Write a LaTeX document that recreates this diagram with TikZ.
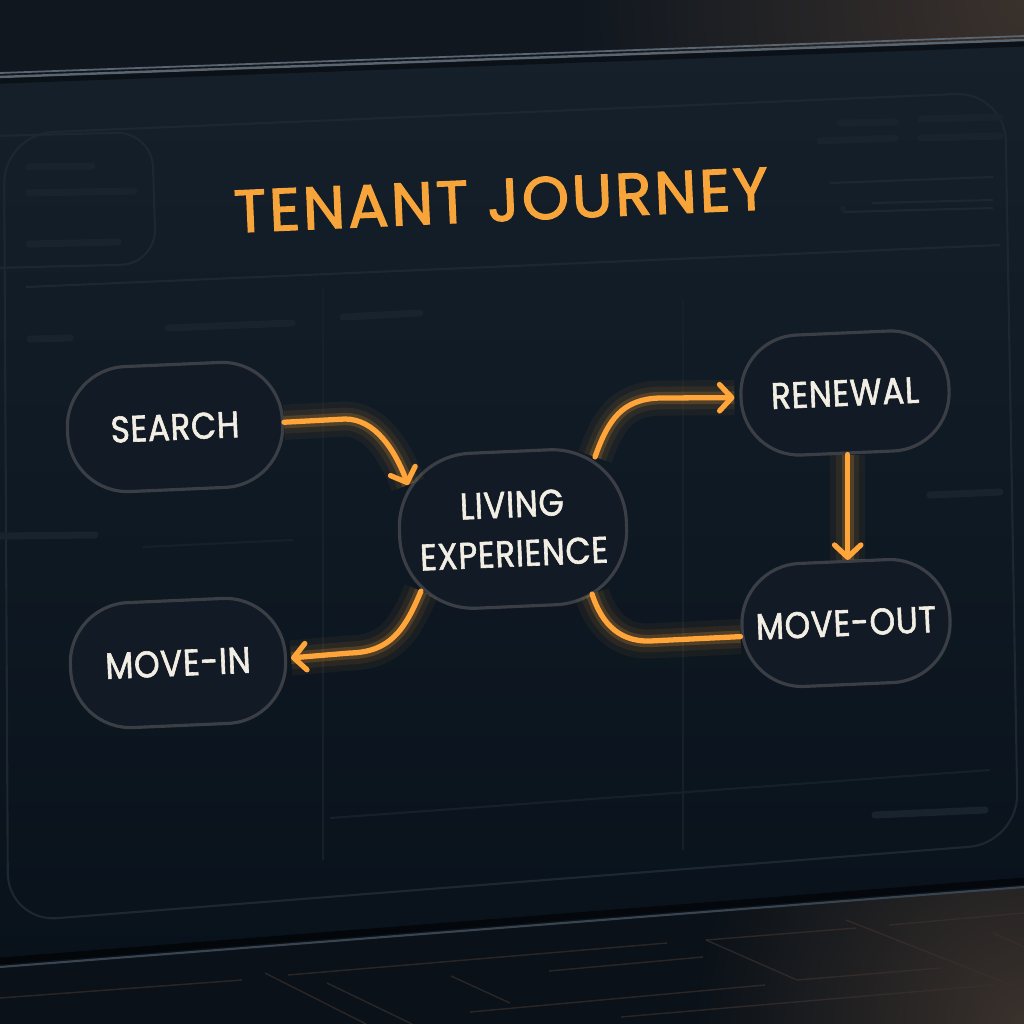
\documentclass[tikz,border=0pt]{standalone}
\usepackage{fontspec}
\setmainfont{Poppins}
\newfontfamily\stagefont{Poppins}[LetterSpace=2, FakeStretch=0.88, FakeBold=1.6]
\newfontfamily\headfont{Poppins}[LetterSpace=5, FakeBold=2.2]
\usetikzlibrary{arrows.meta,calc}
\definecolor{flow}{HTML}{FFA53A}
\definecolor{headc}{HTML}{F7A53B}
\definecolor{stagetext}{HTML}{F2EEE4}
\definecolor{stageedge}{HTML}{3B3F45}
\definecolor{stagefill}{HTML}{111A25}
\definecolor{scrtop}{HTML}{15202B}
\definecolor{scrbot}{HTML}{09121B}
\definecolor{floorc}{HTML}{0A1118}
\definecolor{faint}{HTML}{1C2732}
\definecolor{fainter}{HTML}{16202A}
\definecolor{barc}{HTML}{18232E}
\definecolor{rim}{HTML}{5A6570}
\definecolor{warm}{HTML}{3A312C}
\definecolor{bandl}{HTML}{10171F}
\definecolor{floorline}{HTML}{3A302C}
\begin{document}
\begin{tikzpicture}[x=0.01cm,y=-0.01cm,
  stage/.style={draw=stageedge, line width=0.9pt, fill=stagefill, text=stagetext,
    font=\stagefont\fontsize{10.5}{12}\selectfont, align=center, inner sep=0pt, rotate=2.5},
  small/.style={stage, minimum width=2.15cm, minimum height=1.25cm, rounded corners=0.6cm},
  flowbase/.style={draw=flow, line width=1.5pt, line cap=round,
    preaction={draw=flow, line width=10pt, opacity=0.05, arrows=-},
    preaction={draw=flow, line width=6.5pt, opacity=0.08, arrows=-},
    preaction={draw=flow, line width=3.5pt, opacity=0.18, arrows=-}},
  flowarrow/.style={flowbase, -{Straight Barb[length=3.5pt,width=7.5pt,line cap=round,line join=round]}},
  faintline/.style={draw=faint, line width=0.6pt},
  vline/.style={draw=fainter, line width=0.6pt},
  bar/.style={draw=barc, line width=2pt, line cap=round},
  floorstroke/.style={draw=floorline, line width=0.4pt, opacity=0.7}
]
\useasboundingbox (0,0) rectangle (1024,1024);
\fill[floorc] (0,0) rectangle (1024,1024);
% top band above the screen
\begin{scope}
  \clip (0,0) -- (1024,0) -- (1024,40) -- (0,77) -- cycle;
  \fill[bandl] (0,0) rectangle (1024,80);
  \shade[inner color=warm, outer color=bandl] (1024,0) circle (450);
\end{scope}
% floor
\begin{scope}
  \clip (0,967) -- (1024,887) -- (1024,1024) -- (0,1024) -- cycle;
  \shade[inner color=warm, outer color=floorc] (1024,1024) circle (330);
  \draw[floorstroke] (846,920) -- (1024,990);
  \draw[floorstroke] (706,940) -- (797,980);
  \draw[floorstroke] (706,940) -- (856,928);
  \draw[floorstroke] (797,980) -- (941,968);
  \draw[floorstroke] (889,925) -- (1024,913);
  \draw[floorstroke] (288,975) -- (667,943);
  \draw[floorstroke] (549,971) -- (703,957);
  \draw[floorstroke] (470,1012) -- (765,985);
  \draw[floorstroke] (621,1017) -- (993,985);
  \draw[floorstroke] (265,973) -- (366,1024);
  \draw[floorstroke] (327,983) -- (412,1024);
  \draw[floorstroke] (451,976) -- (510,1003);
  \draw[floorstroke] (0,998) -- (242,980);
  \draw[floorstroke] (993,933) -- (1024,947);
\end{scope}
% screen
\shade[top color=scrtop, bottom color=scrbot] (0,77) -- (1024,40) -- (1024,887) -- (0,967) -- cycle;
\draw[rim, line width=0.5pt] (0,73) -- (1024,36);
\draw[rim, line width=0.7pt] (0,77) -- (1024,40);
\draw[black, opacity=0.45, line width=1.5pt] (0,81) -- (1024,44);
\draw[black, opacity=0.6, line width=2pt] (0,961) -- (1024,881);
\draw[draw=rim!60!scrbot, line width=0.6pt] (0,967) -- (1024,887);
% panel and placeholder details
\draw[faintline, rounded corners=14] (4,134) -- (1005,92) -- (1018,843) -- (8,922) -- cycle;
\draw[faintline, rounded corners=10] (-10,136) -- (152,132) -- (156,264) -- (-10,268);
\draw[faintline] (26,287) -- (1000,245);
\draw[vline] (323,288) -- (323,860);
\draw[vline] (683,300) -- (683,850);
\draw[vline] (330,818) -- (990,770);
\draw[vline] (143,547) -- (293,540);
\draw[faintline] (830,183) -- (993,177);
\draw[faintline] (872,203) -- (993,200);
\draw[faintline] (843,212) -- (993,208);
\draw[bar] (840,123) -- (895,122);
\draw[bar] (921,119) -- (1000,117);
\draw[bar] (820,141) -- (895,138);
\draw[bar] (921,138) -- (1000,136);
\draw[bar] (29,167) -- (92,166);
\draw[bar] (29,193) -- (134,191);
\draw[bar] (29,244) -- (118,242);
\draw[bar] (30,339) -- (70,338);
\draw[bar] (168,328) -- (292,323);
\draw[bar] (343,317) -- (420,313);
\draw[bar] (0,536) -- (95,535);
\draw[bar] (930,495) -- (1000,492);
\draw[bar] (875,815) -- (985,810);
\fill[barc] (843,209) circle (3);
% title
\node[text=headc, font=\headfont\fontsize{17}{20}\selectfont, rotate=2.5, inner sep=0pt] (title) at (501,200) {TENANT JOURNEY};
% stages
\node[small] (search) at (175,427) {SEARCH};
\node[small] (movein) at (178,663) {MOVE-IN};
\node[stage, minimum width=2.27cm, minimum height=1.55cm, rounded corners=0.74cm] (living) at (513,529) {LIVING\\[2pt]EXPERIENCE};
\node[stage, minimum width=2.08cm, minimum height=1.2cm, rounded corners=0.58cm] (renewal) at (845,393) {RENEWAL};
\node[stage, minimum width=2.08cm, minimum height=1.23cm, rounded corners=0.6cm] (moveout) at (846,623) {MOVE-OUT};
% connectors
\draw[flowarrow] (search.east) -- (345,419) .. controls (375,419) and (395,450) .. ($(living.center)+(-105,-44)$);
\draw[flowarrow, shorten >=0.04cm] ($(living.center)+(-92,62)$) .. controls (405,630) and (390,652) .. (350,653) -- (movein.east);
\draw[flowarrow, shorten >=0.05cm] ($(living.center)+(82,-72)$) .. controls (608,420) and (622,399) .. (660,398) -- (renewal.west);
\draw[flowarrow] (renewal.south) -- (renewal.south |- moveout.north);
\draw[flowbase] ($(moveout.west)+(0,9)$) -- (650,641) .. controls (615,642) and (600,618) .. ($(living.center)+(79,65)$);
\end{tikzpicture}
\end{document}
